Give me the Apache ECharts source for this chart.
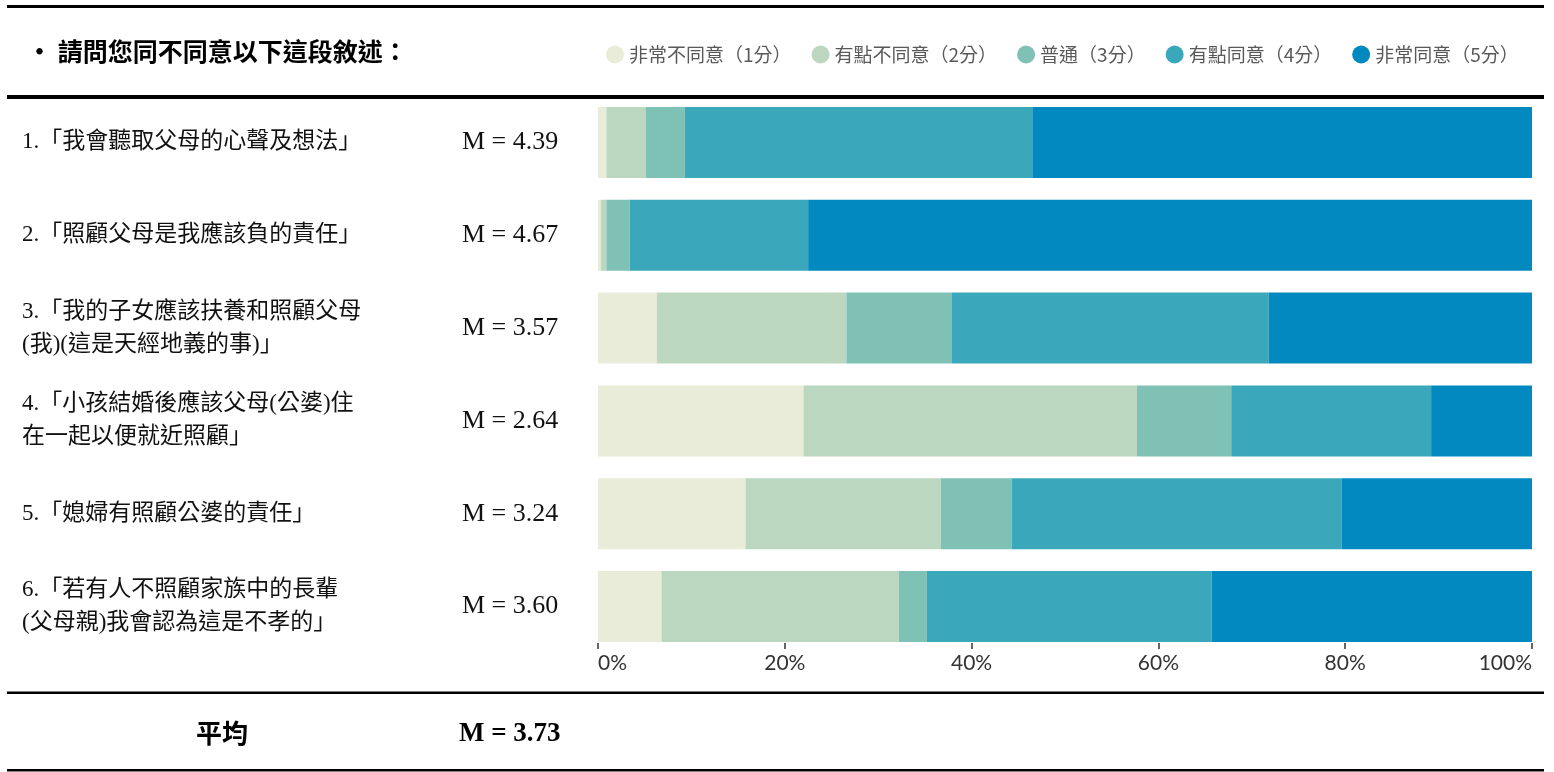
<!DOCTYPE html>
<html>
<head>
<meta charset="utf-8">
<script src="https://cdn.jsdelivr.net/npm/echarts@6/dist/echarts.min.js"></script>
<style>
  html, body { margin: 0; padding: 0; background: #fff; }
  #chart { width: 1554px; height: 772px; }
</style>
</head>
<body>
<div id="chart"></div>
<script>
// Survey statements (top to bottom)
const statements = [
  '1.「我會聽取父母的心聲及想法」',
  '2.「照顧父母是我應該負的責任」',
  '3.「我的子女應該扶養和照顧父母\n(我)(這是天經地義的事)」',
  '4.「小孩結婚後應該父母(公婆)住\n在一起以便就近照顧」',
  '5.「媳婦有照顧公婆的責任」',
  '6.「若有人不照顧家族中的長輩\n(父母親)我會認為這是不孝的」'
];
const means = ['M = 4.39', 'M = 4.67', 'M = 3.57', 'M = 2.64', 'M = 3.24', 'M = 3.60'];
const overallLabel = '平均';
const overallMean = 'M = 3.73';
const titleText = '• 請問您同不同意以下這段敘述：';

// Response categories
const levels = ['非常不同意（1分）', '有點不同意（2分）', '普通（3分）', '有點同意（4分）', '非常同意（5分）'];

// Percentage of respondents per statement, per response level
const stronglyDisagree = [0.9, 0.3, 6.3, 22.0, 15.8, 6.8];
const disagree         = [4.2, 0.6, 20.3, 35.7, 20.9, 25.4];
const neutral          = [4.2, 2.5, 11.3, 10.1, 7.6, 3.0];
const agree            = [37.2, 19.1, 33.9, 21.4, 35.3, 30.5];
const stronglyAgree    = [53.5, 77.5, 28.2, 10.8, 20.4, 34.3];

const tickValues = [0, 20, 40, 60, 80, 100];

const colors = ['#E9ECD8', '#BBD7BF', '#7FC1B4', '#3AA7BB', '#0289C0'];
const seriesData = [stronglyDisagree, disagree, neutral, agree, stronglyAgree];

const CJK = '"Liberation Serif", "Noto Sans CJK TC", serif';
const SANS_CJK = '"Noto Sans CJK TC", sans-serif';

const chart = echarts.init(document.getElementById('chart'), null, { renderer: 'canvas' });

const gridLeft = 598;
const gridTop = 96;
const gridHeight = 557;

const option = {
  animation: false,
  backgroundColor: '#ffffff',
  title: {
    text: titleText,
    left: 22,
    top: 34,
    textStyle: { fontFamily: SANS_CJK, fontSize: 25, fontWeight: 'bold', color: '#000' }
  },
  legend: {
    data: levels,
    left: 601,
    top: 40,
    icon: 'circle',
    itemWidth: 18,
    itemHeight: 18,
    itemGap: 20,
    textStyle: { fontFamily: SANS_CJK, fontSize: 19, color: '#595959' }
  },
  grid: {
    left: gridLeft,
    right: 22,
    top: gridTop,
    height: gridHeight,
    containLabel: false
  },
  xAxis: {
    type: 'value',
    min: tickValues[0],
    max: tickValues[tickValues.length - 1],
    interval: 20,
    offset: -10,
    splitLine: { show: false },
    axisLine: { show: false },
    axisTick: { show: true, length: 6, lineStyle: { color: '#333', width: 1.5 } },
    axisLabel: {
      formatter: '{value}%',
      fontFamily: 'Lato, "Open Sans", sans-serif',
      fontSize: 21,
      color: '#333',
      margin: 10,
      alignMinLabel: 'left',
      alignMaxLabel: 'right'
    }
  },
  yAxis: [
    {
      type: 'category',
      data: statements,
      inverse: true,
      position: 'left',
      axisLine: { show: false },
      axisTick: { show: false },
      axisLabel: {
        align: 'left',
        margin: gridLeft - 22,
        fontFamily: CJK,
        fontSize: 23,
        lineHeight: 33,
        color: '#111'
      }
    },
    {
      type: 'category',
      data: means,
      inverse: true,
      position: 'left',
      axisLine: { show: false },
      axisTick: { show: false },
      axisLabel: {
        align: 'left',
        margin: gridLeft - 462,
        fontFamily: '"Liberation Serif", serif',
        fontSize: 26,
        color: '#111'
      }
    }
  ],
  series: seriesData.map((d, i) => ({
    name: levels[i],
    type: 'bar',
    stack: 'total',
    yAxisIndex: 0,
    barWidth: 71,
    data: d,
    itemStyle: { color: colors[i] },
    emphasis: { disabled: true }
  })),
  graphic: [
    { type: 'rect', shape: { x: 7, y: 5, width: 1537, height: 3 }, style: { fill: '#000' } },
    { type: 'rect', shape: { x: 7, y: 95, width: 1537, height: 4 }, style: { fill: '#000' } },
    { type: 'rect', shape: { x: 7, y: 691.5, width: 1537, height: 2.5 }, style: { fill: '#000' } },
    { type: 'rect', shape: { x: 7, y: 769, width: 1537, height: 2.5 }, style: { fill: '#000' } },
    {
      type: 'text',
      x: 222, y: 733,
      style: {
        text: overallLabel,
        font: 'bold 26px "Noto Sans CJK TC", sans-serif',
        fill: '#000',
        align: 'center',
        verticalAlign: 'middle'
      }
    },
    {
      type: 'text',
      x: 459, y: 734,
      style: {
        text: overallMean,
        font: 'bold 27px "Liberation Serif", serif',
        fill: '#000',
        align: 'left',
        verticalAlign: 'middle'
      }
    }
  ]
};

chart.setOption(option);
</script>
</body>
</html>
